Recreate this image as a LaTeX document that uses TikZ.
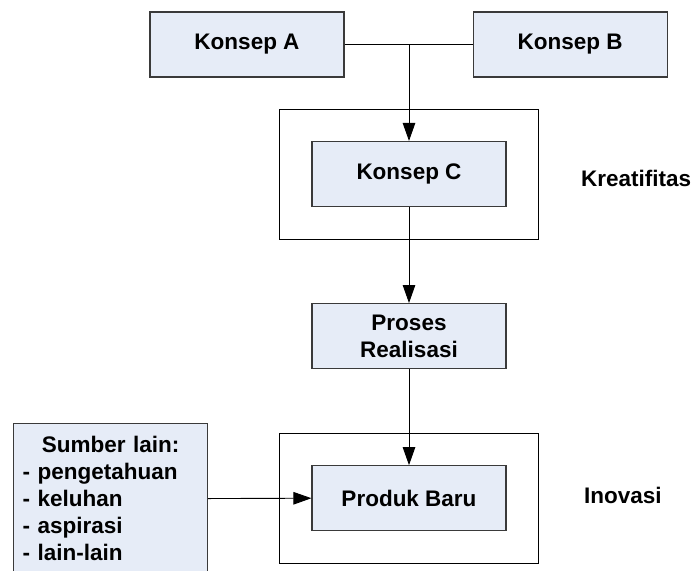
\documentclass[tikz,border=0pt]{standalone}
\usepackage{fontspec}
\setmainfont{Liberation Sans}
\usepackage{tikz}
\usetikzlibrary{arrows.meta,positioning,fit}
\usepackage{xcolor}
\definecolor{boxfill}{HTML}{E6ECF7}
\definecolor{boxline}{HTML}{3A3A3A}

\begin{document}
\begin{tikzpicture}[
        x=1pt, y=-1pt,
        box/.style={rectangle,draw=boxline,fill=boxfill,line width=1.1pt,minimum width=194pt,minimum height=65pt,align=center,font=\bfseries\fontsize{22.5}{27}\selectfont},
        frame/.style={rectangle,draw,line width=0.9pt,inner sep=32pt},
        tag/.style={font=\bfseries\fontsize{22.5}{27}\selectfont,inner sep=0pt,anchor=west},
        arrow/.style={-{Triangle[length=18pt,width=12.5pt]},line width=0.9pt}
    ]
        \clip (0,0) rectangle (692,570);
        \node[box] (konsepA) at (247,44.5) {Konsep A};
        \node[box, right=128pt of konsepA] (konsepB) {Konsep B};
        \node[box] (konsepC) at (409,174) {Konsep C};
        \node[box, below=96pt of konsepC] (proses) {Proses\\Realisasi};
        \node[box, below=96pt of proses] (produk) {Produk Baru};
        \node[box, anchor=north west, text width=176pt, inner xsep=9pt, minimum height=150pt, align=left] (sumber) at (13,423)
            {\hfill Sumber lain:\hfill\null\\- pengetahuan\\- keluhan\\- aspirasi\\- lain-lain};

        \node[frame, fit=(konsepC)] (kreatif) {};
        \node[frame, fit=(produk)] (inovasi) {};
        \node[tag, right=42pt of kreatif.east, yshift=-4pt] (lblKreatif) {Kreatifitas};
        \node[tag, right=45pt of inovasi.east, yshift=3pt] (lblInovasi) {Inovasi};

        \coordinate (junction) at (konsepA.east -| konsepC.north);
        \draw[line width=0.9pt] (konsepA.east) -- (konsepB.west);
        \draw[arrow] (junction) -- (konsepC.north);
        \draw[arrow] (konsepC.south) -- (proses.north);
        \draw[arrow] (proses.south) -- (produk.north);
        \draw[arrow] (sumber.east) -- (produk.west);
    \end{tikzpicture}
\end{document}
